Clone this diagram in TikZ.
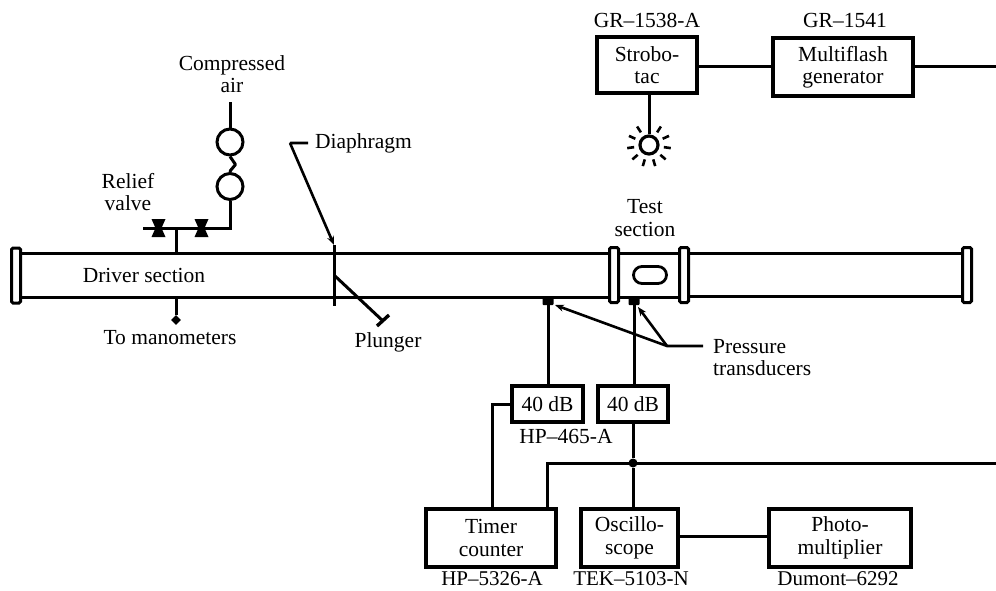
\documentclass[tikz,border=0pt]{standalone}
\usepackage{fontspec}
\setmainfont{Liberation Serif}
\usetikzlibrary{arrows.meta,shapes.geometric,calc}
\tikzset{
  x=1pt,y=-1pt,
  every node/.style={font=\fontsize{21.5}{22.5}\selectfont,inner sep=0pt,align=center},
  ln/.style={line width=3pt,black},
  boxn/.style={draw=black,line width=3.4pt,fill=white},
  flange/.style={draw=black,line width=3pt,fill=white,rounded corners=1.5pt,minimum width=9pt,minimum height=55pt},
  lead/.style={line width=2.6pt,black,-{Stealth[length=9pt,width=7pt]}},
  gauge/.style={circle,draw=black,line width=3pt,minimum size=26pt,fill=white},
  dot/.style={circle,fill=black,minimum size=9pt},
  sensor/.style={fill=black,rounded corners=1pt,minimum width=11pt,minimum height=8pt},
}
\begin{document}
\begin{tikzpicture}
\useasboundingbox (0,0) rectangle (996,590);
% tube
\node[flange] (fl1) at (16,275.5) {};
\node[flange] (fl2) at (614,275) {};
\node[flange] (fl3) at (684,275) {};
\node[flange] (fl4) at (967,275) {};
\draw[ln] (fl1.east |- 0,253) -- (fl2.west |- 0,253);
\draw[ln] (fl1.east |- 0,297.5) -- (fl2.west |- 0,297.5);
\draw[ln] (fl2.east |- 0,253) -- (fl3.west |- 0,253);
\draw[ln] (fl2.east |- 0,297) -- (fl3.west |- 0,297);
\draw[ln] (fl3.east |- 0,253) -- (fl4.west |- 0,253);
\draw[ln] (fl3.east |- 0,296.5) -- (fl4.west |- 0,296.5);
\node[draw=black,line width=2.8pt,rounded corners=8.5pt,minimum width=33pt,minimum height=17pt] (win) at (650,275) {};
\node (test) at (645,218) {Test\\section};
\node (driver) at (144,275) {Driver section};
% diaphragm
\coordinate (dtop) at (334,245);
\coordinate (dbot) at (334,306);
\draw[ln] (dtop) -- (dbot);
\node[anchor=west] (diaph) at (315,143) {Diaphragm};
\coordinate (dbend) at (290,143);
\draw[lead,rounded corners=1pt] ($(diaph.west)+(-7,0)$) -- (dbend) -- (dtop);
% plunger
\coordinate (pstart) at (335,276);
\coordinate (pend) at (383,321);
\coordinate (pb1) at (389,315);
\coordinate (pb2) at (377,326);
\draw[ln] (pstart) -- (pend);
\draw[line width=3.4pt] (pb1) -- (pb2);
\node (plunger) at (388,342) {Plunger};
% compressed air
\node (air) at (232,74) {Compressed\\air};
\coordinate (airtop) at (230,102);
\node[gauge] (g1) at (230,142) {};
\node[gauge] (g2) at (230,186.5) {};
\draw[ln] (airtop) -- (g1.north);
\draw[ln,line join=round] (g1.south) -- ++(5.5,8) -- ++(-5,6) -- (g2.north);
\coordinate (pcorner) at (230,228);
\coordinate (pleft) at (143,228);
\coordinate (ptee) at (176,228);
\coordinate (ptube) at (176,253);
\draw[ln] (g2.south) -- (pcorner) -- (pleft);
\draw[ln] (ptee) -- (ptube);
\coordinate (v1) at (158.5,228);
\coordinate (v2) at (201.5,228);
\foreach \v in {v1,v2}
  \fill[black] ($(\v)+(-7,-9)$) -- ($(\v)+(7,-9)$) -- ($(\v)+(3,0)$) -- ($(\v)+(7,9)$) -- ($(\v)+(-7,9)$) -- ($(\v)+(-3,0)$) -- cycle;
\node (relief) at (128,192) {Relief\\valve};
% manometers
\node[diamond,fill=black,minimum size=10pt] (mano) at (176,320) {};
\coordinate (mtop) at (176,298);
\draw[ln] (mtop) -- (mano);
\node (mtext) at (170,338) {To manometers};
% stroboscope
\node (gr1) at (647,20) {GR--1538-A};
\node (gr2) at (845,20) {GR--1541};
\node[boxn,minimum width=100pt,minimum height=56pt] (strobo) at (647,65) {Strobo-\\tac};
\node[boxn,minimum width=140pt,minimum height=58pt] (multi) at (843,67) {Multiflash\\generator};
\coordinate (mright) at (996,66);
\draw[ln] (strobo.east |- mright) -- (multi.west |- mright);
\draw[ln] (multi.east |- mright) -- (mright);
\node[circle,draw=black,line width=3.2pt,minimum size=18pt,fill=white] (lamp) at (649,145) {};
\draw[ln] (strobo.south -| lamp) -- (lamp.north);
\foreach \a in {0,...,10}
  \draw[line width=2.6pt] ($(lamp.center)+({270+\a*32.727}:15)$) -- ($(lamp.center)+({270+\a*32.727}:22)$);
% transducers
\node[sensor] (s1) at (548,301) {};
\node[sensor] (s2) at (634,301) {};
\node[anchor=west,align=left] (ptxt) at (713,357.5) {Pressure\\transducers};
\coordinate (pj) at (667,346);
\coordinate (ptl) at (703,346);
\draw[lead] (ptl) -- (pj) -- (555,305);
\draw[lead] (pj) -- (638,307);
% amps
\node[boxn,minimum width=71pt,minimum height=36pt] (a1) at (547.5,404) {40 dB};
\node[boxn,minimum width=70pt,minimum height=36pt] (a2) at (633,404) {40 dB};
\draw[ln] (s1) -- (s1 |- a1.north);
\draw[ln] (s2) -- (s2 |- a2.north);
\node (hp465) at (566,436) {HP--465-A};
% instruments
\node[boxn,minimum width=130pt,minimum height=58pt] (timer) at (491,538) {Timer\\counter};
\node[boxn,minimum width=97pt,minimum height=58pt] (osc) at (629.5,538) {Oscillo-\\scope};
\node[boxn,minimum width=142pt,minimum height=58pt] (photo) at (840,538) {Photo-\\multiplier};
\node[font=\fontsize{21}{22}\selectfont] (hp5326) at (492,578.5) {HP--5326-A};
\node[font=\fontsize{21}{22}\selectfont] (tek) at (631,578.5) {TEK--5103-N};
\node[font=\fontsize{21}{22}\selectfont] (dumont) at (838,578.5) {Dumont--6292};
\node[dot] (jn) at (633,463) {};
\coordinate (busr) at (996,463);
\coordinate (busl) at (547,463);
\draw[ln] (a2.south) -- (jn);
\draw[ln] (jn) -- (jn |- osc.north);
\draw[ln] (busr) -- (busl) -- (busl |- timer.north);
\coordinate (tk) at (492,404);
\draw[ln] (a1.west) -- (tk) -- (tk |- timer.north);
\draw[ln] (osc.east |- 0,536) -- (photo.west |- 0,536);
\end{tikzpicture}
\end{document}
